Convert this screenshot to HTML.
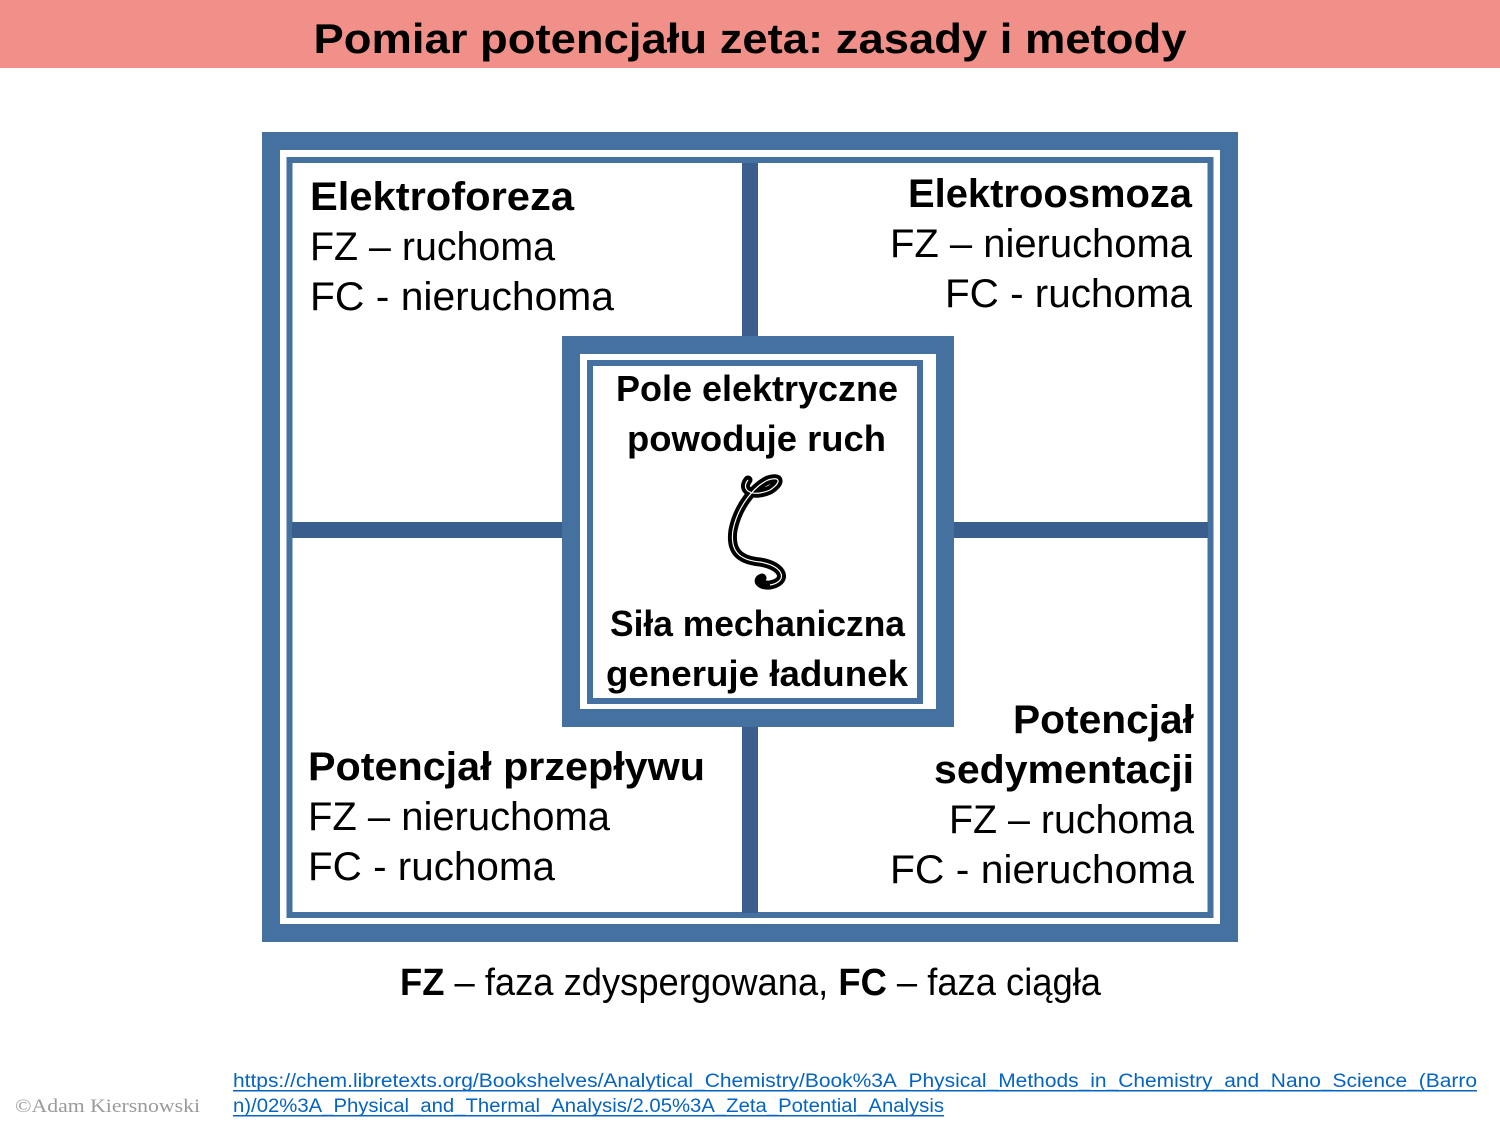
<!DOCTYPE html>
<html><head><meta charset="utf-8"><style>
html,body{margin:0;padding:0;background:#fff;width:1500px;height:1125px;overflow:hidden}
svg{display:block}
text{font-family:"Liberation Sans","DejaVu Sans",sans-serif;fill:#000}
.b{font-weight:bold}
</style></head><body>
<svg width="1500" height="1125" viewBox="0 0 1500 1125" xmlns="http://www.w3.org/2000/svg">
<rect x="0" y="0" width="1500" height="68" fill="#f19088"/>
<text class="b" x="750" y="53" font-size="42" text-anchor="middle" textLength="873" lengthAdjust="spacingAndGlyphs">Pomiar potencjału zeta: zasady i metody</text>

<!-- outer frame -->
<rect x="271" y="141" width="958" height="792" fill="none" stroke="#44719f" stroke-width="18"/>
<rect x="289.5" y="160" width="921" height="755" fill="none" stroke="#44719f" stroke-width="6"/>
<!-- dividers -->
<rect x="742" y="163" width="16" height="175" fill="#3a5f8f"/>
<rect x="742" y="726" width="16" height="187" fill="#3a5f8f"/>
<rect x="292" y="522" width="272" height="16" fill="#3a5f8f"/>
<rect x="952" y="522" width="256" height="16" fill="#3a5f8f"/>
<!-- center box -->
<rect x="571" y="345" width="374" height="373" fill="#fff" stroke="#44719f" stroke-width="18"/>
<rect x="590" y="363" width="330" height="338" fill="none" stroke="#44719f" stroke-width="6"/>

<g font-size="40">
<text class="b" x="310" y="210" textLength="264" lengthAdjust="spacingAndGlyphs">Elektroforeza</text>
<text x="310" y="260" textLength="245" lengthAdjust="spacingAndGlyphs">FZ – ruchoma</text>
<text x="310" y="310" textLength="304" lengthAdjust="spacingAndGlyphs">FC - nieruchoma</text>

<text class="b" x="908" y="207" textLength="284" lengthAdjust="spacingAndGlyphs">Elektroosmoza</text>
<text x="890" y="257" textLength="302" lengthAdjust="spacingAndGlyphs">FZ – nieruchoma</text>
<text x="945" y="307" textLength="247" lengthAdjust="spacingAndGlyphs">FC - ruchoma</text>

<text class="b" x="308" y="780" textLength="397" lengthAdjust="spacingAndGlyphs">Potencjał przepływu</text>
<text x="308" y="830" textLength="302" lengthAdjust="spacingAndGlyphs">FZ – nieruchoma</text>
<text x="308" y="880" textLength="247" lengthAdjust="spacingAndGlyphs">FC - ruchoma</text>

<text class="b" x="1013" y="733" textLength="181" lengthAdjust="spacingAndGlyphs">Potencjał</text>
<text class="b" x="934" y="783" textLength="260" lengthAdjust="spacingAndGlyphs">sedymentacji</text>
<text x="949" y="833" textLength="245" lengthAdjust="spacingAndGlyphs">FZ – ruchoma</text>
<text x="890" y="883" textLength="304" lengthAdjust="spacingAndGlyphs">FC - nieruchoma</text>
</g>

<g font-size="36" class="b">
<text class="b" x="616" y="401" textLength="282" lengthAdjust="spacingAndGlyphs">Pole elektryczne</text>
<text class="b" x="627" y="451" textLength="259" lengthAdjust="spacingAndGlyphs">powoduje ruch</text>
<text class="b" x="610" y="636" textLength="295" lengthAdjust="spacingAndGlyphs">Siła mechaniczna</text>
<text class="b" x="606" y="686" textLength="302" lengthAdjust="spacingAndGlyphs">generuje ładunek</text>
</g>

<!-- zeta -->
<path d="M748,480 C740,490 752,498 770,490 C782,482 780,476 768,480 C755,486 738,505 733,530 C730,550 738,560 760,562 C785,566 788,582 770,585 C760,586 756,580 762,578" fill="none" stroke="#000" stroke-width="9" stroke-linecap="round"/>
<path d="M748,480 C740,490 752,498 770,490 C782,482 780,476 768,480 C755,486 738,505 733,530 C730,550 738,560 760,562 C785,566 788,582 770,585" fill="none" stroke="#fff" stroke-width="1.2"/>

<text x="400" y="995" font-size="38" textLength="701" lengthAdjust="spacingAndGlyphs"><tspan class="b">FZ</tspan> – faza zdyspergowana, <tspan class="b">FC</tspan> – faza ciągła</text>

<text x="15" y="1112" font-family="Liberation Serif,serif" font-size="19" fill="#9a9a9a" style="font-family:'Liberation Serif',serif;fill:#9a9a9a" textLength="185" lengthAdjust="spacingAndGlyphs">©Adam Kiersnowski</text>
<g font-size="19" style="fill:#0563c1">
<text x="233" y="1087" style="fill:#0563c1" textLength="1244" lengthAdjust="spacingAndGlyphs">https://chem.libretexts.org/Bookshelves/Analytical_Chemistry/Book%3A_Physical_Methods_in_Chemistry_and_Nano_Science_(Barro</text>
<text x="233" y="1112" style="fill:#0563c1" textLength="711" lengthAdjust="spacingAndGlyphs">n)/02%3A_Physical_and_Thermal_Analysis/2.05%3A_Zeta_Potential_Analysis</text>
</g>
<rect x="233" y="1090" width="1244" height="1.5" fill="#0563c1"/>
<rect x="233" y="1115" width="711" height="1.5" fill="#0563c1"/>
</svg>
</body></html>
